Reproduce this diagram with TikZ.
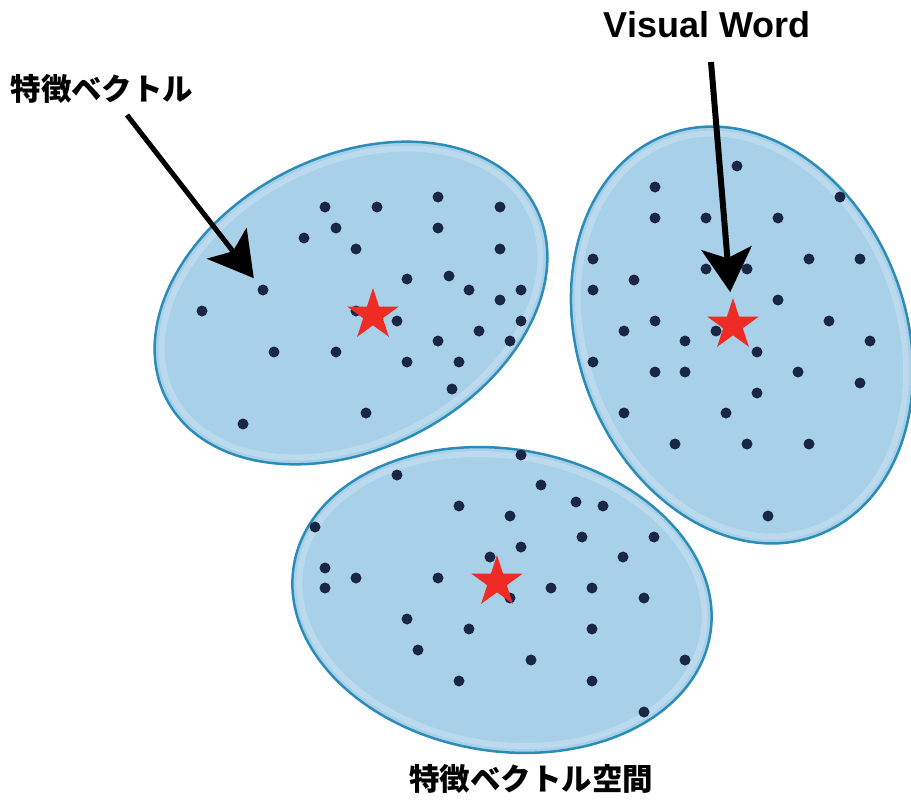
\documentclass[tikz,border=0pt]{standalone}
\usepackage{fontspec}
\newfontfamily\jpfont{Noto Sans CJK JP}
\newfontfamily\lsans{Liberation Sans}
\usetikzlibrary{shapes.geometric,arrows.meta}
\definecolor{fillblue}{HTML}{A8D0E8}
\definecolor{edgeblue}{HTML}{2C8CB8}
\definecolor{dotnavy}{HTML}{1A2744}
\definecolor{starred}{HTML}{EE2B24}
\tikzset{
  blob/.style={ellipse, fill=fillblue, draw=edgeblue, line width=2.5pt, inner sep=0pt, outer sep=0pt},
  rim/.style={draw=white, opacity=0.22, line width=6pt},
  dot/.style={circle, fill=dotnavy, inner sep=0pt, minimum size=11pt},
  vstar/.style={star, star points=5, star point ratio=2.618, fill=starred, inner sep=0pt, minimum size=54pt},
  bigarrow/.style={draw=black, -{Stealth[length=44pt, width=50pt, inset=10pt]}},
  jplabel/.style={font=\jpfont\bfseries\fontsize{30.5}{34}\selectfont, inner sep=0pt},
}
\begin{document}
\begin{tikzpicture}[x=1pt,y=-1pt]
\useasboundingbox (0,0) rectangle (911,800);
% clusters
\node[blob, minimum width=416pt, minimum height=292pt, rotate=27.6] (e1) at (351,303) {};
\node[blob, minimum width=328pt, minimum height=428pt, rotate=20.7] (e2) at (742,335) {};
\node[blob, minimum width=422pt, minimum height=302pt, rotate=-9.4] (e3) at (502,600) {};
\draw[rim, rotate around={27.6:(351,303)}] (351,303) ellipse [x radius=201pt, y radius=139pt];
\draw[rim, rotate around={20.7:(742,335)}] (742,335) ellipse [x radius=157pt, y radius=207pt];
\draw[rim, rotate around={-9.4:(502,600)}] (502,600) ellipse [x radius=204pt, y radius=144pt];
% feature vectors, cluster 1
\foreach \x/\y [count=\i] in {325/207,377/207,438/197,500/207,336/228,438/228,304/238,356/249,500/249,407/279,449/276,469/290,521/290,500/300,202/311,356/311,397/321,521/321,479/331,438/341,510/341,274/352,336/352,407/362,459/362,452/389,366/413,243/424}
  \node[dot] (p\i) at (\x,\y) {};
\node[dot] (fv) at (263,290) {};
% cluster 2
\foreach \x/\y [count=\i] in {737/166,655/187,840/197,655/218,706/218,778/218,593/259,706/269,747/269,809/259,860/259,634/280,593/290,778/300,655/321,624/331,716/331,829/321,685/341,870/341,757/352,593/362,655/372,685/372,798/372,860/383,757/393,624/413,726/413,675/444,747/444,809/444,768/516}
  \node[dot] (q\i) at (\x,\y) {};
% cluster 3
\foreach \x/\y [count=\i] in {521/455,397/475,541/485,459/506,576/502,603/506,510/516,315/527,582/537,654/537,521/547,490/557,623/557,325/568,356/578,438/578,325/588,551/588,592/588,510/598,644/598,407/619,469/629,592/629,418/650,531/660,685/660,459/681,592/681,644/712}
  \node[dot] (r\i) at (\x,\y) {};
% visual words
\node[vstar] (s1) at (373,315) {};
\node[vstar] (s2) at (733,325) {};
\node[vstar] (s3) at (497,582) {};
% labels
\node[jplabel] (lfv) at (102,89) {特徴ベクトル};
\node[font=\lsans\bfseries\fontsize{36}{40}\selectfont, inner sep=0pt] (lvw) at (707,25) {Visual Word};
\node[jplabel] (lsp) at (531,779) {特徴ベクトル空間};
% arrows
\coordinate (a1s) at (127,115);
\coordinate (a2s) at (711,62);
\draw[bigarrow, line width=5pt, shorten >=15pt] (a1s) -- (fv.center);
\draw[bigarrow, line width=6pt, shorten >=33pt] (a2s) -- (s2.center);
\end{tikzpicture}
\end{document}
